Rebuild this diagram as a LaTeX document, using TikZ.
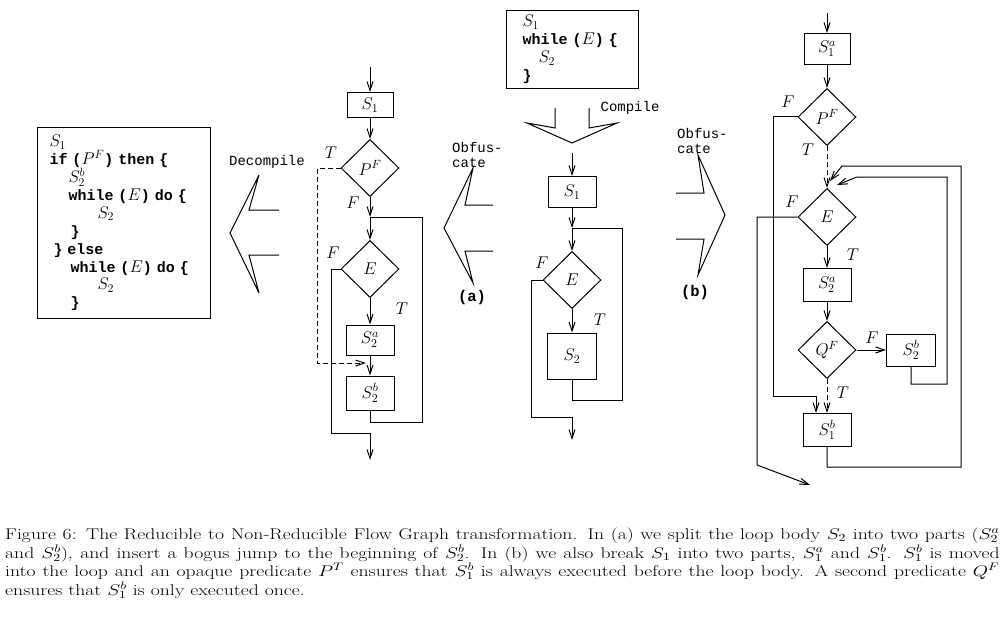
\RequirePackage{fix-cm}
\documentclass[tikz,border=0pt]{standalone}
\usepackage{fontspec}
\setmonofont{Liberation Mono}
\usetikzlibrary{arrows.meta, calc, shapes.geometric}
\DeclareMathSizes{15}{17}{12}{9}

\begin{document}
\begin{tikzpicture}[x=1pt, y=-1pt, font=\fontsize{17}{20}\selectfont]
    \tikzset{BoxStyle/.style = {shape = rectangle, draw, line width = 1pt, minimum width = 48, minimum height = 31, inner sep = 0},
        TestStyle/.style = {shape = diamond, draw, line width = 1pt, aspect = 1, minimum width = 58, minimum height = 57, inner sep = 0},
        LinkStyle/.style = {draw, line width = 1pt},
        ArrowStyle/.style = {LinkStyle, -{Straight Barb[length=9pt,width=6pt]}},
        BogusStyle/.style = {ArrowStyle, dash pattern = on 5pt off 3pt},
        FlagStyle/.style = {inner sep = 0},
        CodeStyle/.style = {draw, line width = 1pt, anchor = north west, align = left, inner ysep = 0, font = \ttfamily\bfseries\fontsize{15}{17.9}\selectfont},
        TagStyle/.style = {inner sep = 0, align = left, font = \ttfamily\fontsize{14}{15}\selectfont},
        PartStyle/.style = {inner sep = 0, font = \ttfamily\bfseries\fontsize{15.5}{18}\selectfont},
        HollowStyle/.style = {draw, line width = 1pt},
        CaptionStyle/.style = {anchor = base west, inner sep = 0, font = \fontsize{15.5}{18.7}\selectfont}}

    \useasboundingbox (0,0) rectangle (1006,623);

    % programs
    \node[CodeStyle, text width = 100, inner xsep = 16, minimum height = 78] (src) at (506,10)
        {$S_1$\\ while ($E$) \{\\ \hspace*{16pt}$S_2$\\ \}};
    \node[CodeStyle, text width = 149, inner xsep = 12, minimum height = 191] (dec) at (37,127)
        {$S_1$\\
        if ($P^F$) then \{\\
        \hspace*{19pt}$S_2^b$\\
        \hspace*{19pt}while ($E$) do \{\\
        \hspace*{48pt}$S_2$\\
        \hspace*{21pt}\}\\
        \hspace*{4pt}\} else\\
        \hspace*{21pt}while ($E$) do \{\\
        \hspace*{48pt}$S_2$\\
        \hspace*{21pt}\}};

    % big arrows
    \draw[HollowStyle] (555,108) -- (555,128) -- (527,123) -- (572,143) -- (617,123) -- (589,128) -- (589,108);
    \draw[HollowStyle] (279,210) -- (249,210) -- (259,175) -- (230,233) -- (259,293) -- (249,255) -- (279,255);
    \draw[HollowStyle] (493,205) -- (465,205) -- (473,168) -- (444,228) -- (473,283) -- (465,251) -- (493,251);
    \draw[HollowStyle] (676,193) -- (704,193) -- (698,155) -- (725,215) -- (698,275) -- (704,239) -- (676,239);
    \node[TagStyle] (tc) at (630,108) {Compile};
    \node[TagStyle] (td) at (267,162) {Decompile};
    \node[TagStyle, anchor = west] (ta) at (452,155) {Obfus-\\cate};
    \node[TagStyle, anchor = west] (tb) at (677,141) {Obfus-\\cate};
    \node[PartStyle] (pa) at (472,297) {(a)};
    \node[PartStyle] (pb) at (695,292) {(b)};

    % compiled graph
    \coordinate (m0) at (572,153);
    \node[BoxStyle] (m1) at (572,192) {$S_1$};
    \coordinate (mj) at (572,228);
    \node[TestStyle] (me) at (572,280) {$E$};
    \node[BoxStyle, minimum width = 49, minimum height = 46] (m2) at (572,356) {$S_2$};
    \coordinate (ml) at (622,400);
    \coordinate (mf) at (531,417);
    \coordinate (mx) at (572,417);
    \coordinate (my) at (572,440);
    \node[FlagStyle] (mF) at (542,263) {$F$};
    \node[FlagStyle] (mT) at (600,320) {$T$};

    \path
        (m0) edge[ArrowStyle] (m1)
        (m1) edge[ArrowStyle] (mj)
        (mj) edge[ArrowStyle] (me)
        (me) edge[ArrowStyle] (m2)
        ;
    \path[LinkStyle] (m2) |- (ml) |- (mj);
    \path[ArrowStyle] (me.west) -| (mf) -- (mx) -- (my);

    % graph (a)
    \coordinate (a0) at (370,67);
    \node[BoxStyle, minimum width = 46, minimum height = 25] (a1) at (370,105) {$S_1$};
    \node[TestStyle] (ap) at (370,168) {$P^F$};
    \coordinate (aj) at (370,217);
    \node[TestStyle] (ae) at (370,269) {$E$};
    \node[BoxStyle, minimum height = 30] (a2a) at (370,340) {$S_2^a$};
    \node[BoxStyle, minimum height = 34] (a2b) at (370,393) {$S_2^b$};
    \coordinate (al) at (422,422);
    \coordinate (ad) at (317,363);
    \coordinate (ak) at (366,363);
    \coordinate (af) at (331,433);
    \coordinate (ax) at (370,433);
    \coordinate (ay) at (370,460);
    \node[FlagStyle] (aT) at (331,153) {$T$};
    \node[FlagStyle] (aF) at (353,203) {$F$};
    \node[FlagStyle] (aG) at (333,253) {$F$};
    \node[FlagStyle] (aU) at (402,309) {$T$};

    \path
        (a0) edge[ArrowStyle] (a1)
        (a1) edge[ArrowStyle] (ap)
        (ap) edge[ArrowStyle] (aj)
        (aj) edge[ArrowStyle] (ae)
        (ae) edge[ArrowStyle] (a2a)
        (a2a) edge[ArrowStyle] (a2b)
        ;
    \path[LinkStyle] (a2b) |- (al) |- (aj);
    \path[ArrowStyle] (ae.west) -| (af) -- (ax) -- (ay);
    \path[BogusStyle] (ap.west) -| (ad) -- (ak);

    % graph (b)
    \coordinate (b0) at (827,13);
    \node[BoxStyle, minimum width = 46] (b1a) at (827,49) {$S_1^a$};
    \node[TestStyle] (bp) at (827,117) {$P^F$};
    \node[TestStyle] (be) at (827,217) {$E$};
    \node[BoxStyle, minimum height = 33] (b2a) at (827,285) {$S_2^a$};
    \node[TestStyle] (bq) at (827,350) {$Q^F$};
    \node[BoxStyle, minimum width = 49, minimum height = 32] (b2b) at (911,350) {$S_2^b$};
    \node[BoxStyle, minimum height = 33] (b1b) at (827,430) {$S_1^b$};
    \coordinate (bf) at (773,396);
    \coordinate (bh) at (757,465);
    \coordinate (bi) at (810,485);
    \coordinate (bl) at (947,384);
    \coordinate (bm) at (857,177);
    \coordinate (bn) at (837,185);
    \coordinate (bo) at (961,467);
    \coordinate (bk) at (842,166);
    \coordinate (bt) at (830,181);
    \node[FlagStyle] (bF) at (788,102) {$F$};
    \node[FlagStyle] (bT) at (808,150) {$T$};
    \node[FlagStyle] (bG) at (792,202) {$F$};
    \node[FlagStyle] (bU) at (853,255) {$T$};
    \node[FlagStyle] (bH) at (872,338) {$F$};
    \node[FlagStyle] (bV) at (843,393) {$T$};

    \path
        (b0) edge[ArrowStyle] (b1a)
        (b1a) edge[ArrowStyle] (bp)
        (be) edge[ArrowStyle] (b2a)
        (b2a) edge[ArrowStyle] (bq)
        (bq) edge[ArrowStyle] (b2b)
        (bp) edge[BogusStyle] (be)
        (bq) edge[BogusStyle] (b1b)
        ;
    \path[ArrowStyle] (bp.west) -| (bf) -| ([xshift=-11pt]b1b.north);
    \path[ArrowStyle] (be.west) -| (bh) -- (bi);
    \path[ArrowStyle] (b2b) |- (bl) |- (bm) -- (bn);
    \path[ArrowStyle] (b1b) |- (bo) |- (bk) -- (bt);

    % caption
    \node[CaptionStyle] (cap1) at (5,539) {\scalebox{1.27}[1]{\makebox[783pt][s]{Figure 6: The Reducible to Non-Reducible Flow Graph transformation. In (a) we split the loop body $S_2$ into two parts ($S_2^a$}}};
    \node[CaptionStyle] (cap2) at (5,558) {\scalebox{1.27}[1]{\makebox[783pt][s]{and $S_2^b$), and insert a bogus jump to the beginning of $S_2^b$. In (b) we also break $S_1$ into two parts, $S_1^a$ and $S_1^b$. $S_1^b$ is moved}}};
    \node[CaptionStyle] (cap3) at (5,576) {\scalebox{1.27}[1]{\makebox[783pt][s]{into the loop and an opaque predicate $P^T$ ensures that $S_1^b$ is always executed before the loop body. A second predicate $Q^F$}}};
    \node[CaptionStyle] (cap4) at (5,595) {\scalebox{1.27}[1]{ensures that $S_1^b$ is only executed once.}};
\end{tikzpicture}
\end{document}
